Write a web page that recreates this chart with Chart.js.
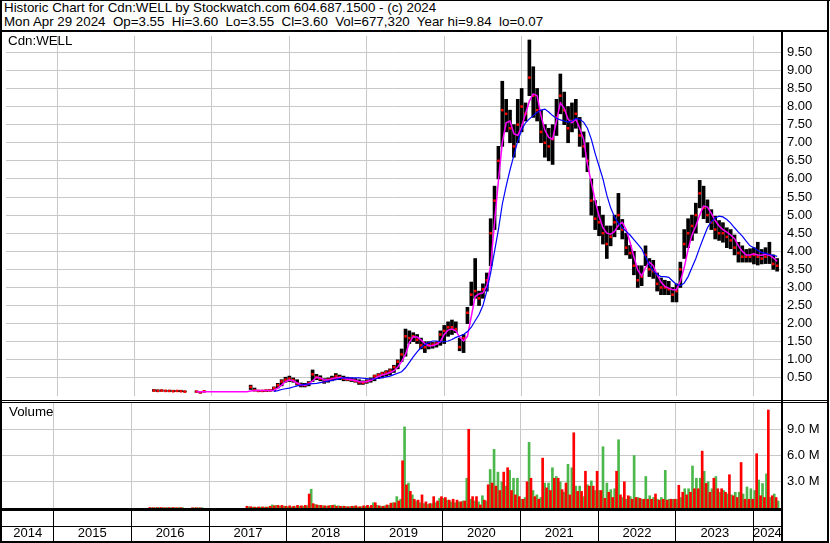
<!DOCTYPE html>
<html>
<head>
<meta charset="utf-8">
<script src="https://cdn.jsdelivr.net/npm/chart.js@4.4.1/dist/chart.umd.min.js"></script>
<style>
body { margin: 0; background: #fff; }
#wrap { position: relative; width: 830px; height: 543px; overflow: hidden; font-family: "Liberation Sans", Arial, sans-serif; }
.ln { position: absolute; background: #000; }
.txt { position: absolute; font-size: 13.33px; line-height: 14.4px; white-space: pre; color: #000; }
canvas { position: absolute; }
</style>
</head>
<body>
<div id="wrap">
  <div class="txt" style="left:4px;top:1px">Historic Chart for Cdn:WELL by Stockwatch.com 604.687.1500 - (c) 2024</div>
  <div class="txt" style="left:4px;top:15px">Mon Apr 29 2024  Op=3.55  Hi=3.60  Lo=3.55  Cl=3.60  Vol=677,320  Year hi=9.84  lo=0.07</div>
  <canvas id="price" width="826" height="368" style="left:2px;top:32px"></canvas>
  <canvas id="volume" width="826" height="138" style="left:2px;top:403px"></canvas>
  <div class="txt" style="left:8px;top:34px">Cdn:WELL</div>
  <div class="txt" style="left:9px;top:405px">Volume</div>
  <!-- frame -->
  <div class="ln" style="left:0;top:0;width:830px;height:1px"></div>
  <div class="ln" style="left:0;top:0;width:2px;height:543px"></div>
  <div class="ln" style="left:827px;top:0;width:2px;height:543px"></div>
  <div class="ln" style="left:0;top:30px;width:829px;height:2px"></div>
  <div class="ln" style="left:781px;top:32px;width:2px;height:510px"></div>
  <div class="ln" style="left:2px;top:400px;width:825px;height:1px"></div>
  <div class="ln" style="left:2px;top:402px;width:825px;height:1px"></div>
  <div class="ln" style="left:2px;top:508px;width:781px;height:3px"></div>
  <div class="ln" style="left:2px;top:526px;width:781px;height:1px"></div>
  <div class="ln" style="left:0;top:541px;width:829px;height:2px"></div>
</div>
<script>
// time grid: one sample every 0.05 year, from 2016.20 to 2024.30
var startYear = 2016.2
var step = 0.05
var xMin = 2014.34, xMax = 2024.35
var yearBounds = [2015, 2016, 2017, 2018, 2019, 2020, 2021, 2022, 2023, 2024]
var yearLabels = [2014, 2015, 2016, 2017, 2018, 2019, 2020, 2021, 2022, 2023, 2024]
var priceTicks = [0.5, 1, 1.5, 2, 2.5, 3, 3.5, 4, 4.5, 5, 5.5, 6, 6.5, 7, 7.5, 8, 8.5, 9, 9.5]
var volTicks = [3, 6, 9]

var priceLow = [
  null, 0.13, 0.12, 0.13, 0.13, 0.12, 0.12, 0.12, 0.12, 0.11, null, null, 0.10, 0.08, 0.11, null,
  null, null, null, null, null, null, null, null, null, null, 0.18, 0.14, 0.12, 0.12, 0.12, 0.13, 0.14, 0.22, 0.28, 0.38,
  0.40, 0.38, 0.30, 0.25, 0.25, 0.28, 0.40, 0.45, 0.42, 0.35, 0.38, 0.42, 0.45, 0.45, 0.42, 0.42, 0.40, 0.38, 0.32, 0.32,
  0.35, 0.38, 0.42, 0.48, 0.50, 0.55, 0.58, 0.65, 0.75, 0.95, 1.10, 1.45, 1.50, 1.45, 1.30, 1.20, 1.30, 1.32, 1.35, 1.40,
  1.45, 1.65, 1.70, 1.75, 1.25, 1.20, 2.00, 2.50, 2.70, 2.50, 2.70, 2.90, 3.60, 4.60, 6.00, 6.90, 7.30, 7.00, 6.60, 7.00,
  7.30, 7.60, 8.30, 7.70, 7.60, 7.00, 6.60, 6.50, 6.40, 7.20, 7.80, 7.50, 7.00, 7.30, 7.40, 6.90, 6.60, 6.20, 5.00, 4.60,
  4.43, 4.20, 3.80, 4.15, 4.40, 4.60, 4.34, 3.90, 3.80, 3.35, 3.00, 3.05, 3.60, 3.30, 3.25, 2.90, 2.80, 2.80, 2.80, 2.60,
  2.60, 3.00, 3.80, 4.10, 4.30, 4.50, 5.20, 4.90, 4.79, 4.60, 4.34, 4.30, 4.25, 4.10, 4.07, 3.90, 3.70, 3.70, 3.70, 3.70,
  3.65, 3.62, 3.65, 3.66, 3.66, 3.50, 3.45
]
var priceHigh = [
  null, 0.18, 0.17, 0.17, 0.16, 0.16, 0.16, 0.15, 0.16, 0.14, null, null, 0.14, 0.12, 0.14, null,
  null, null, null, null, null, null, null, null, null, null, 0.30, 0.22, 0.16, 0.16, 0.17, 0.18, 0.25, 0.35, 0.45, 0.52,
  0.55, 0.50, 0.45, 0.36, 0.35, 0.40, 0.72, 0.60, 0.56, 0.48, 0.50, 0.55, 0.62, 0.58, 0.55, 0.52, 0.50, 0.48, 0.45, 0.42,
  0.45, 0.50, 0.58, 0.62, 0.66, 0.70, 0.75, 0.85, 1.00, 1.30, 1.85, 1.80, 1.75, 1.70, 1.60, 1.50, 1.50, 1.48, 1.50, 1.80,
  1.95, 2.05, 2.10, 2.05, 1.60, 1.70, 2.45, 3.15, 3.80, 2.90, 3.10, 3.40, 4.90, 5.80, 6.90, 8.70, 8.20, 7.90, 7.50, 8.20,
  8.50, 8.10, 9.84, 9.10, 8.50, 7.90, 7.50, 7.40, 7.50, 8.20, 8.90, 8.40, 8.00, 8.10, 8.20, 7.70, 7.30, 7.00, 6.00, 5.40,
  5.24, 5.00, 4.70, 4.70, 5.00, 5.60, 4.88, 4.50, 4.16, 4.00, 3.60, 3.60, 4.15, 3.80, 3.75, 3.40, 3.26, 3.20, 3.17, 3.00,
  3.10, 3.70, 4.60, 4.90, 5.00, 5.33, 5.96, 5.80, 5.42, 5.15, 4.97, 4.85, 4.79, 4.65, 4.60, 4.45, 4.25, 4.15, 4.05, 4.07,
  4.10, 4.25, 4.05, 4.10, 4.25, 3.90, 3.80
]
var priceClose = [
  null, 0.15, 0.14, 0.15, 0.14, 0.14, 0.13, 0.14, 0.13, 0.12, null, null, 0.12, 0.10, 0.13, null,
  null, null, null, null, null, null, null, null, null, null, 0.25, 0.16, 0.14, 0.14, 0.15, 0.16, 0.22, 0.30, 0.40, 0.45,
  0.48, 0.44, 0.35, 0.30, 0.30, 0.35, 0.60, 0.52, 0.48, 0.40, 0.45, 0.48, 0.55, 0.52, 0.48, 0.46, 0.45, 0.42, 0.38, 0.36,
  0.40, 0.45, 0.55, 0.58, 0.62, 0.65, 0.70, 0.80, 0.95, 1.15, 1.65, 1.60, 1.65, 1.55, 1.40, 1.35, 1.40, 1.42, 1.45, 1.70,
  1.80, 1.90, 1.90, 1.85, 1.35, 1.60, 2.30, 2.80, 2.90, 2.70, 2.95, 3.20, 4.50, 5.40, 6.50, 7.90, 7.80, 7.40, 6.90, 7.50,
  8.00, 7.80, 8.80, 8.30, 7.90, 7.30, 7.00, 6.90, 7.10, 7.70, 8.30, 7.90, 7.40, 7.60, 7.80, 7.20, 6.90, 6.50, 5.40, 4.90,
  4.80, 4.50, 4.20, 4.40, 4.80, 5.00, 4.60, 4.10, 3.95, 3.60, 3.20, 3.30, 3.90, 3.50, 3.45, 3.10, 3.00, 3.00, 2.95, 2.80,
  2.90, 3.50, 4.20, 4.50, 4.70, 5.00, 5.60, 5.20, 5.00, 4.80, 4.60, 4.50, 4.50, 4.40, 4.30, 4.10, 3.95, 3.85, 3.85, 3.85,
  3.90, 3.85, 3.80, 3.85, 3.90, 3.65, 3.60
]
// short moving average (magenta)
var maShort = [
  null, null, null, null, null, null, null, null, null, null, null, null, 0.12, 0.12, 0.12, 0.12,
  0.12, 0.12, 0.12, 0.12, 0.12, 0.12, 0.12, 0.12, 0.12, 0.12, 0.14, 0.15, 0.15, 0.15, 0.15, 0.15, 0.16, 0.22, 0.30, 0.40,
  0.44, 0.42, 0.36, 0.31, 0.30, 0.33, 0.42, 0.52, 0.50, 0.44, 0.44, 0.48, 0.50, 0.51, 0.49, 0.47, 0.45, 0.43, 0.40, 0.39,
  0.40, 0.43, 0.48, 0.54, 0.58, 0.61, 0.65, 0.70, 0.80, 0.95, 1.15, 1.48, 1.64, 1.63, 1.55, 1.45, 1.39, 1.39, 1.43, 1.50,
  1.70, 1.82, 1.85, 1.80, 1.62, 1.52, 1.65, 2.20, 2.75, 2.82, 2.85, 3.05, 3.60, 4.80, 5.95, 7.00, 7.55, 7.60, 7.25, 7.20,
  7.45, 7.80, 8.15, 8.35, 8.30, 7.75, 7.35, 7.15, 7.10, 7.60, 8.10, 7.95, 7.65, 7.55, 7.65, 7.40, 7.10, 6.40, 5.90, 5.40,
  4.97, 4.65, 4.50, 4.47, 4.55, 4.72, 4.80, 4.60, 4.25, 3.85, 3.48, 3.32, 3.55, 3.70, 3.60, 3.35, 3.15, 3.03, 2.98, 2.94,
  2.94, 3.17, 3.55, 4.05, 4.45, 4.70, 5.00, 5.25, 5.22, 5.05, 4.85, 4.70, 4.60, 4.53, 4.45, 4.35, 4.15, 4.00, 3.90, 3.90,
  3.93, 3.90, 3.89, 3.92, 3.90, 3.82, 3.72
]
// long moving average (blue)
var maLong = [
  null, null, null, null, null, null, null, null, null, null, null, null, null, null, null, null,
  null, null, null, null, null, null, null, null, null, null, null, null, null, null, null, null, 0.13, 0.15, 0.18, 0.20,
  0.22, 0.25, 0.28, 0.30, 0.32, 0.33, 0.34, 0.35, 0.37, 0.39, 0.41, 0.43, 0.45, 0.48, 0.50, 0.50, 0.50, 0.50, 0.50, 0.49,
  0.48, 0.47, 0.47, 0.49, 0.51, 0.53, 0.55, 0.59, 0.63, 0.67, 0.78, 0.93, 1.08, 1.22, 1.34, 1.42, 1.48, 1.52, 1.52, 1.50,
  1.50, 1.52, 1.56, 1.62, 1.66, 1.70, 1.78, 1.90, 2.08, 2.25, 2.50, 2.90, 3.40, 4.00, 4.60, 5.30, 5.80, 6.25, 6.65, 7.05,
  7.35, 7.55, 7.66, 7.75, 7.84, 7.90, 7.93, 7.85, 7.75, 7.68, 7.63, 7.60, 7.57, 7.60, 7.67, 7.65, 7.57, 7.40, 7.10, 6.70,
  6.35, 6.00, 5.55, 5.20, 4.95, 4.78, 4.65, 4.55, 4.45, 4.32, 4.20, 4.07, 3.85, 3.62, 3.46, 3.36, 3.30, 3.30, 3.28, 3.18,
  3.08, 3.05, 3.12, 3.30, 3.55, 3.80, 4.10, 4.38, 4.65, 4.82, 4.92, 4.97, 4.95, 4.88, 4.78, 4.65, 4.53, 4.42, 4.28, 4.15,
  4.10, 4.02, 3.97, 3.94, 3.91, 3.89, 3.86
]
// volume in millions, up days (green) and down days (red)
var volUp = [
  null, 0.04, 0.03, 0.05, 0.03, 0.04, 0.03, 0.03, 0.04, 0.03, null, null, 0.02, 0.02, 0.03, null,
  null, null, null, null, null, null, null, null, null, null, 0.15, 0.10, 0.08, 0.10, 0.10, 0.12, 0.35, 0.30, 0.20, 0.20,
  0.15, 0.12, 0.15, 0.20, 0.20, 0.25, 2.15, 0.40, 0.30, 0.25, 0.20, 0.30, 0.35, 0.25, 0.20, 0.15, 0.15, 0.20, 0.12, 0.15,
  0.20, 0.15, 0.60, 0.30, 0.20, 0.25, 0.30, 0.60, 1.30, 1.00, 9.27, 2.85, 1.50, 0.80, 0.60, 0.50, 0.40, 0.50, 0.60, 1.10,
  1.10, 0.90, 0.70, 0.60, 0.70, 0.80, 3.40, 1.00, 0.80, 0.70, 1.40, 0.80, 4.40, 6.70, 4.10, 3.00, 2.50, 4.30, 3.40, 3.40,
  1.00, 1.20, 7.50, 2.00, 1.50, 1.20, 2.85, 2.85, 4.60, 3.60, 3.00, 1.80, 5.00, 4.60, 2.50, 2.50, 1.30, 2.65, 3.10, 2.00,
  2.00, 7.00, 2.85, 2.10, 2.20, 7.80, 1.20, 1.00, 1.30, 6.00, 1.20, 1.00, 3.60, 1.40, 1.20, 1.00, 1.20, 4.30, 1.00, 1.00,
  1.00, 1.20, 2.20, 2.20, 4.80, 3.40, 3.40, 4.20, 3.00, 2.20, 3.60, 1.80, 2.00, 1.60, 1.50, 1.80, 1.80, 1.60, 2.40, 2.20,
  2.00, 3.20, 2.80, 3.90, 1.20, 1.60, 0.80
]
var volDown = [
  null, 0.05, 0.04, 0.04, 0.05, 0.03, 0.04, 0.05, 0.03, 0.04, null, null, 0.03, 0.03, 0.02, null,
  null, null, null, null, null, null, null, null, null, null, 0.20, 0.15, 0.10, 0.12, 0.12, 0.10, 0.20, 0.25, 0.30, 0.30,
  0.20, 0.25, 0.20, 0.30, 0.25, 0.30, 1.60, 0.50, 0.35, 0.30, 0.25, 0.25, 0.30, 0.20, 0.20, 0.20, 0.15, 0.20, 0.25, 0.15,
  0.25, 0.30, 0.30, 0.60, 0.25, 0.20, 0.35, 0.55, 0.60, 0.80, 5.40, 2.65, 1.90, 1.00, 0.90, 1.50, 0.70, 0.50, 1.30, 0.80,
  1.30, 1.20, 0.90, 1.00, 0.90, 0.70, 0.80, 9.00, 1.30, 1.30, 0.35, 0.90, 2.65, 2.85, 2.50, 2.00, 4.10, 4.60, 2.00, 1.50,
  1.30, 1.00, 3.00, 3.40, 1.30, 1.00, 5.70, 2.30, 2.00, 3.40, 3.40, 2.10, 2.85, 1.50, 8.60, 1.90, 1.90, 4.20, 2.50, 2.50,
  4.20, 2.00, 1.10, 1.80, 1.20, 4.20, 1.50, 3.00, 1.40, 1.00, 1.20, 1.10, 1.00, 1.00, 1.00, 1.60, 0.90, 1.00, 0.90, 1.00,
  1.00, 2.60, 1.80, 1.50, 1.80, 2.20, 2.20, 6.50, 2.80, 1.80, 3.40, 2.20, 2.20, 1.80, 3.80, 1.40, 1.20, 5.20, 1.00, 1.00,
  1.00, 6.20, 1.40, 1.20, 11.20, 1.40, 1.20
]

var gridColor = '#c8c8c8'
var axisFont = { family: "'Liberation Sans', Arial, sans-serif", size: 13 }

function xAt(i) { return startYear + i * step }
function toPoints(arr) {
  return arr.map(function(v, i) { return { x: xAt(i), y: v } })
}
function nonNull(arr) {
  return toPoints(arr).filter(function(p) { return p.y != null })
}

var hiLo = []
for (var i = 0; i < priceLow.length; i++) {
  if (priceLow[i] != null) hiLo.push({ x: xAt(i), y: [priceLow[i], priceHigh[i]] })
}

var common = {
  animation: false,
  responsive: false,
  devicePixelRatio: 1,
  events: [],
  layout: { padding: 0 },
  plugins: { legend: { display: false }, tooltip: { enabled: false } }
}

/*
price panel
*/
new Chart(document.getElementById('price').getContext('2d'), {
  type: 'line',
  data: {
    datasets: [{
      type: 'bar',
      data: hiLo,
      backgroundColor: '#000',
      barThickness: 3,
      order: 4
    }, {
      data: nonNull(priceClose),
      showLine: false,
      pointStyle: 'rect',
      pointRadius: 1.8,
      pointBorderWidth: 0,
      pointBackgroundColor: '#ff0000',
      order: 3
    }, {
      data: toPoints(maShort),
      borderColor: '#ff00ff',
      borderWidth: 1.5,
      pointRadius: 0,
      order: 2
    }, {
      data: toPoints(maLong),
      borderColor: '#0000ff',
      borderWidth: 1.2,
      pointRadius: 0,
      order: 1
    }]
  },
  options: Object.assign({}, common, {
    scales: {
      x: {
        type: 'linear', min: xMin, max: xMax, offset: false,
        afterBuildTicks: function(s) { s.ticks = yearBounds.map(function(v) { return { value: v } }) },
        afterFit: function(s) { s.height = 0; s.paddingLeft = 0; s.paddingRight = 0 },
        ticks: { display: false },
        grid: { color: gridColor, drawTicks: false, offset: false },
        border: { display: false }
      },
      y: {
        position: 'right', min: 0, max: 9.95,
        afterBuildTicks: function(s) { s.ticks = priceTicks.map(function(v) { return { value: v } }) },
        afterFit: function(s) { s.width = 47; s.paddingTop = 0; s.paddingBottom = 0 },
        ticks: { color: '#000', font: axisFont, padding: 6, callback: function(v) { return v.toFixed(2) } },
        grid: { color: gridColor, drawTicks: false },
        border: { display: false }
      }
    }
  })
})

/*
volume panel with year labels underneath
*/
var yearTicks = yearBounds.map(function(v) { return { value: v } })
yearLabels.forEach(function(y) {
  var a = Math.max(y, xMin), b = Math.min(y + 1, xMax)
  yearTicks.push({ value: (a + b) / 2 })
})
yearTicks.sort(function(p, q) { return p.value - q.value })
function isBound(t) { return t && Number.isInteger(t.value) }

new Chart(document.getElementById('volume').getContext('2d'), {
  type: 'bar',
  data: {
    datasets: [{
      data: nonNull(volDown),
      backgroundColor: '#ff0000',
      barThickness: 2
    }, {
      data: nonNull(volUp),
      backgroundColor: '#4cb84c',
      barThickness: 2
    }]
  },
  options: Object.assign({}, common, {
    scales: {
      x: {
        type: 'linear', min: xMin, max: xMax, offset: false,
        afterBuildTicks: function(s) { s.ticks = yearTicks.map(function(t) { return { value: t.value } }) },
        afterFit: function(s) { s.height = 33; s.paddingLeft = 0; s.paddingRight = 0 },
        ticks: {
          autoSkip: false, maxRotation: 0, color: '#000', font: axisFont, padding: -15,
          callback: function(v) { return Number.isInteger(v) ? '' : String(Math.floor(v)) }
        },
        grid: {
          offset: false,
          color: function(c) { return isBound(c.tick) ? gridColor : 'rgba(0,0,0,0)' },
          tickColor: function(c) { return isBound(c.tick) ? '#000' : 'rgba(0,0,0,0)' },
          tickLength: 33,
          tickWidth: 1
        },
        border: { display: false }
      },
      y: {
        position: 'right', min: 0, max: 12,
        afterBuildTicks: function(s) { s.ticks = volTicks.map(function(v) { return { value: v } }) },
        afterFit: function(s) { s.width = 47; s.paddingTop = 0; s.paddingBottom = 0 },
        ticks: { color: '#000', font: axisFont, padding: 6, callback: function(v) { return v.toFixed(1) + ' M' } },
        grid: { color: gridColor, drawTicks: false },
        border: { display: false }
      }
    }
  })
})
</script>
</body>
</html>
